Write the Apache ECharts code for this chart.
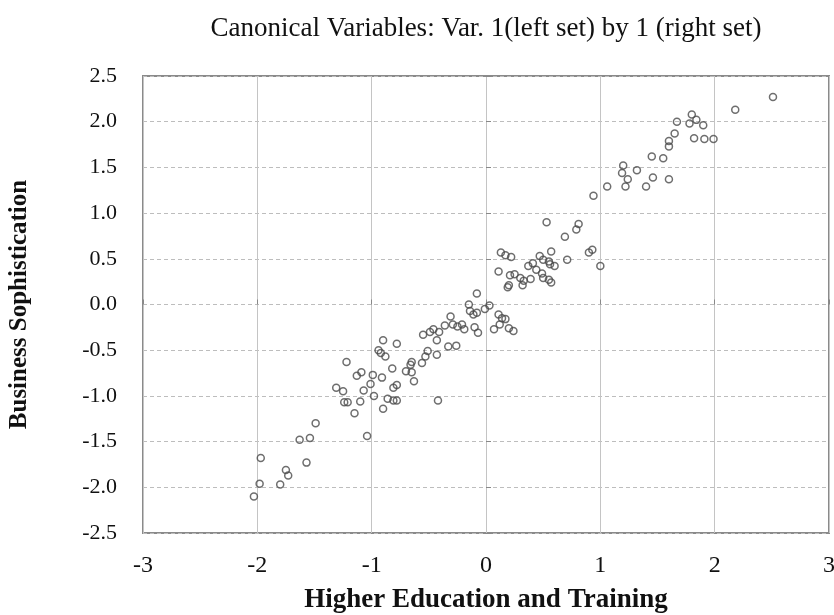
<!DOCTYPE html>
<html>
<head>
<meta charset="utf-8">
<script src="https://cdn.jsdelivr.net/npm/echarts@6/dist/echarts.min.js"></script>
<style>html,body{margin:0;padding:0;background:#fff;}#chart{width:834px;height:615px;}</style>
</head>
<body>
<div id="chart"></div>
<script>
// Canonical scores: left set (Higher Education and Training)
var xValues = [
  -2.03,-1.98,-1.97,-1.80,-1.75,-1.73,-1.57,-1.63,-1.54,-1.49,
  -1.31,-1.22,-1.25,-1.24,-1.21,-1.15,-1.10,-1.07,-1.04,-1.01,-1.13,-1.09,-0.99,-0.98,-0.91,-0.90,-0.90,-0.94,-0.92,-0.88,
  -0.86,-0.82,-0.81,-0.78,-0.81,-0.78,-0.78,-0.70,-0.66,-0.65,-0.65,-0.63,-0.56,-0.53,-0.51,-0.42,-0.43,
  -0.55,-0.49,-0.46,-0.41,-0.43,-0.36,-0.31,-0.29,-0.25,-0.21,-0.19,-0.10,-0.07,0.07,-0.33,-0.26,
  -0.08,-0.15,-0.14,-0.11,-0.08,-0.01,0.03,0.11,0.14,0.17,0.12,0.20,0.24,
  0.13,0.17,0.22,0.11,0.37,0.41,0.44,0.21,0.25,0.30,0.33,0.39,0.20,0.19,0.32,
  0.53,0.81,0.79,0.69,0.90,0.93,1.00,0.57,0.47,0.50,0.55,0.60,0.71,0.56,0.49,0.50,0.55,0.57,
  2.51,2.18,1.80,1.67,1.78,1.84,1.90,1.82,1.91,1.99,1.65,1.60,1.60,1.45,1.55,1.20,1.19,1.32,1.24,1.22,1.46,1.60,1.40,1.06,0.94
];
// Canonical scores: right set (Business Sophistication)
var yValues = [
  -2.10,-1.96,-1.68,-1.97,-1.81,-1.87,-1.73,-1.48,-1.46,-1.30,
  -0.91,-0.63,-0.95,-1.07,-1.07,-1.19,-1.06,-0.94,-1.44,-0.87,-0.78,-0.74,-0.77,-1.00,-0.80,-1.14,-0.39,-0.50,-0.53,-0.57,
  -1.03,-0.70,-0.91,-0.88,-1.05,-1.05,-0.43,-0.73,-0.66,-0.63,-0.74,-0.84,-0.64,-0.57,-0.51,-1.05,-0.55,
  -0.33,-0.30,-0.27,-0.30,-0.39,-0.23,-0.13,-0.22,-0.24,-0.22,-0.27,-0.25,-0.31,-0.27,-0.46,-0.45,
  0.12,0.00,-0.07,-0.11,-0.09,-0.05,-0.01,-0.11,-0.15,-0.16,-0.22,-0.26,-0.29,
  0.57,0.54,0.52,0.36,0.42,0.45,0.38,0.32,0.33,0.29,0.26,0.28,0.21,0.19,0.21,
  0.90,0.88,0.82,0.74,0.57,0.60,0.42,0.58,0.53,0.49,0.47,0.42,0.49,0.44,0.34,0.29,0.27,0.24,
  2.27,2.13,2.08,2.00,1.98,2.02,1.96,1.82,1.81,1.81,1.87,1.79,1.73,1.62,1.60,1.52,1.44,1.47,1.37,1.29,1.39,1.37,1.29,1.29,1.19
];
var xTicks = ['-3','-2','-1','0','1','2','3'];
var yTicks = ['-2.5','-2.0','-1.5','-1.0','-0.5','0.0','0.5','1.0','1.5','2.0','2.5'];
var titleText = 'Canonical Variables: Var. 1(left set) by 1 (right set)';
var xName = 'Higher Education and Training';
var yName = 'Business Sophistication';

var points = xValues.map(function (x, i) { return [x, yValues[i]]; });
var serif = '"Liberation Serif", "Times New Roman", serif';
var chart = echarts.init(document.getElementById('chart'), null, {renderer: 'canvas'});
chart.setOption({
  animation: false,
  backgroundColor: '#ffffff',
  title: {
    text: titleText, left: 481, top: 10, textAlign: 'center',
    textStyle: {fontFamily: serif, fontSize: 27, fontWeight: 'normal', color: '#111'}
  },
  grid: {left: 143, right: 5, top: 76, bottom: 82, containLabel: false, outerBoundsMode: 'none',
    show: true, borderColor: '#8a8a8a', borderWidth: 2, backgroundColor: 'transparent'},
  xAxis: {
    type: 'value', min: -3, max: 3, interval: 1,
    name: xName, nameLocation: 'middle', nameGap: 54,
    nameTextStyle: {fontFamily: serif, fontSize: 27, fontWeight: 'bold', color: '#111'},
    axisLine: {show: false},
    axisTick: {show: true, inside: true, length: 5, lineStyle: {color: '#888'}},
    splitLine: {show: true, lineStyle: {color: '#c4c4c4', width: 1, type: 'solid'}},
    axisLabel: {fontFamily: serif, fontSize: 24, color: '#111', margin: 21,
      formatter: function (v) { var i = xTicks.indexOf(String(v)); return i >= 0 ? xTicks[i] : String(v); }}
  },
  yAxis: {
    type: 'value', min: -2.5, max: 2.5, interval: 0.5,
    name: yName, nameLocation: 'middle', nameGap: 111, nameRotate: 90,
    nameTextStyle: {fontFamily: serif, fontSize: 25, fontWeight: 'bold', color: '#111'},
    axisLine: {show: false},
    axisTick: {show: true, inside: true, length: 5, lineStyle: {color: '#888'}},
    splitLine: {show: true, lineStyle: {color: '#bdbdbd', width: 1, type: [4, 3]}},
    axisLabel: {fontFamily: serif, fontSize: 22, color: '#111', margin: 26,
      formatter: function (v) { return yTicks[Math.round((v + 2.5) / 0.5)]; }}
  },
  series: [{
    type: 'scatter',
    data: points,
    symbol: 'circle',
    symbolSize: 7,
    itemStyle: {color: 'rgba(255,255,255,0)', borderColor: '#4a4a4a', borderWidth: 1.5}
  }]
});
</script>
</body>
</html>
